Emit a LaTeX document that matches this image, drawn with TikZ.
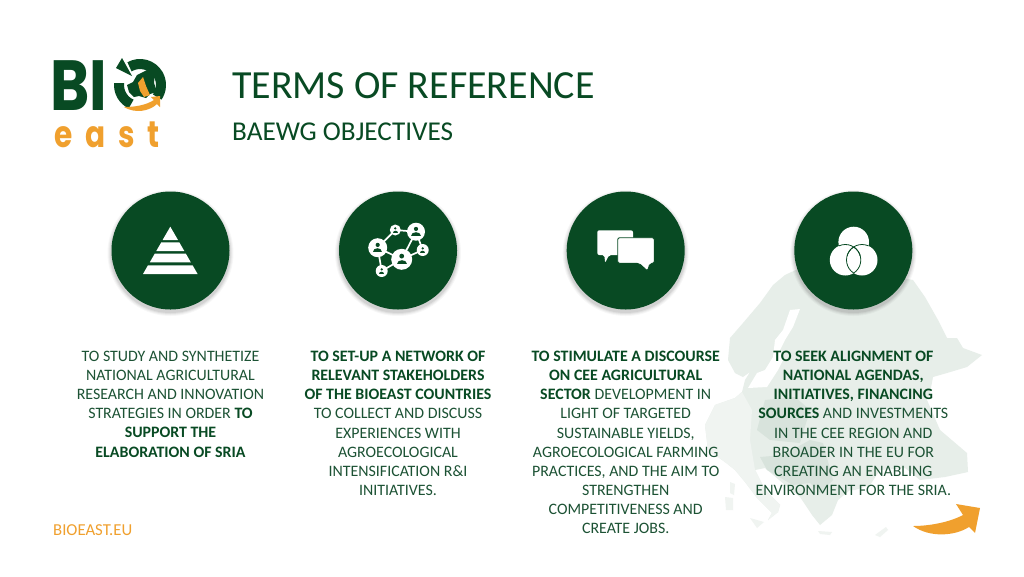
\documentclass[tikz,border=0pt]{standalone}
\usepackage{fontspec}
\setmainfont{Carlito}
\newfontfamily\logofont{Poppins}
\definecolor{dkgreen}{HTML}{084A23}
\definecolor{txtgreen}{HTML}{1C5234}
\definecolor{orng}{HTML}{F0A02E}
\definecolor{maplight}{HTML}{E7EEE9}
\definecolor{mapdark}{HTML}{D8E3DC}
\definecolor{mappale}{HTML}{F0F4F1}
\usetikzlibrary{calc}
\tikzset{
  disc/.style={circle,fill=dkgreen,minimum size=118pt,inner sep=0pt},
  body/.style={anchor=north,align=center,text=txtgreen,font=\fontsize{15.9}{19.1}\selectfont,inner sep=0pt},
  iconfill/.style={fill=white,draw=none},
  netedge/.style={draw=white,line width=1.7pt},
}
\newcommand{\bstr}[1]{\textbf{\textcolor{dkgreen}{#1}}}
\newcommand{\shadowdisc}[1]{%
  \foreach \r/\o in {63/.03,62/.04,61/.05,60/.06}{\fill[black,opacity=\o] ($(#1)+(0,2.5)$) circle (\r);}}
\newcommand{\person}[3]{%
  \fill[dkgreen] ($(#1,#2)+(0,-.4*#3)$) circle (.3*#3);
  \fill[dkgreen] ($(#1,#2)+(-.65*#3,.6*#3)$) .. controls ($(#1,#2)+(-.65*#3,-.1*#3)$) and ($(#1,#2)+(.65*#3,-.1*#3)$) .. ($(#1,#2)+(.65*#3,.6*#3)$) -- cycle;}
\begin{document}
\begin{tikzpicture}[x=1pt,y=-1pt]
\useasboundingbox (0,0) rectangle (1024,576);
\fill[white] (0,0) rectangle (1024,576);
% background map
\fill[maplight] (773,285) -- (760,303) -- (743,323) -- (730,338) -- (728,360) -- (735,373) -- (743,377) -- (750,372) -- (745,380) -- (742,392) -- (735,398) -- (715,405) -- (705,425) -- (708,450) -- (725,462) -- (735,470) -- (745,482) -- (757,498) -- (772,513) -- (768,520) -- (778,512) -- (780,505) -- (765,490) -- (755,470) -- (765,468) -- (785,485) -- (800,497) -- (812,515) -- (820,525) -- (832,515) -- (838,500) -- (850,490) -- (855,490) -- (870,485) -- (880,470) -- (905,468) -- (920,480) -- (945,477) -- (968,472) -- (967,453) -- (940,430) -- (927,400) -- (930,393) -- (933,377) -- (947,373) -- (967,367) -- (982,355) -- (963,348) -- (957,338) -- (947,338) -- (938,320) -- (925,297) -- (913,280) -- (860,270) -- (800,268) -- (785,275) -- cycle;
% paler western part of the map
\fill[mappale] (742,392) -- (735,398) -- (715,405) -- (705,425) -- (708,450) -- (725,462) -- (735,470) -- (745,482) -- (757,498) -- (772,513) -- (768,520) -- (778,512) -- (780,505) -- (765,490) -- (755,470) -- (750,440) -- (752,410) -- cycle;
\fill[white] (790,310) -- (800,309) -- (793,327) -- (785,340) -- (780,350) -- (783,360) -- (778,370) -- (767,387) -- (748,388) -- (757,373) -- (765,370) -- (773,357) -- (775,340) -- (783,330) -- cycle;
\fill[mapdark] (757,430) -- (765,400) -- (795,397) -- (810,410) -- (800,443) -- (770,440) -- cycle;
\fill[mapdark] (760,457) -- (783,455) -- (810,440) -- (823,443) -- (833,480) -- (820,493) -- (810,483) -- (793,485) -- (767,470) -- cycle;
\fill[mappale] (730,482) -- (735,484) -- (734,495) -- (730,493) -- cycle;
\fill[mappale] (725,497) -- (733,498) -- (733,510) -- (726,510) -- cycle;
\fill[mappale] (750,518) -- (764,522) -- (757,528) -- cycle;
\fill[mappale] (818,531) -- (832,532) -- (830,535) -- (820,534) -- cycle;
\fill[mappale] (875,535) -- (886,527) -- (888,530) -- (880,537) -- cycle;
% logo
\node[inner sep=0pt,anchor=base west,text=dkgreen,font=\fontsize{71}{71}\logofont\bfseries,xscale=.84] (logobi) at (50,110) {BI};
\node[inner sep=0pt,anchor=base west,text=orng,font=\fontsize{37}{37}\logofont\bfseries,xscale=.8] (logoeast) at (54,147) {e\hspace{16pt}a\hspace{16pt}s\hspace{16pt}t};
% logo ring
\begin{scope}[shift={(140,85)},y=1pt]
\draw[dkgreen,line width=10pt] (120:21) arc[start angle=120,end angle=-35,radius=21];
\draw[dkgreen,line width=10pt] (175:21) arc[start angle=175,end angle=245,radius=21];
\end{scope}
\fill[dkgreen] (122,58) -- (132,76) -- (116,68) -- cycle;
% logo inner map
\fill[dkgreen] (127,85) -- (133,82) -- (137,75) -- (147,70) -- (155,73) -- (154,83) -- (157,92) -- (150,94) -- (146,98) -- (139,96) -- (134,97) -- (129,92) -- cycle;
\fill[orng] (138,83) -- (143,77) -- (146,86) -- (150,95) -- (144,97) -- (140,91) -- cycle;
% logo orange arrow
\fill[orng] (124,107) .. controls (136,107) and (146,105) .. (154,100) -- (151,97) -- (160,96) -- (160,107) -- (157,104) .. controls (150,111) and (135,114) .. (124,107) -- cycle;
% title
\node[inner sep=0pt,anchor=base west,text=dkgreen,font=\fontsize{39.9}{40}\selectfont] (title) at (232,98.7) {TERMS OF REFERENCE};
\node[inner sep=0pt,anchor=base west,text=dkgreen,font=\fontsize{27.2}{28}\selectfont] (subtitle) at (232,140.5) {BAEWG OBJECTIVES};
% discs
\shadowdisc{170.5,250.5}\shadowdisc{398,250.5}\shadowdisc{625.7,250.5}\shadowdisc{853.3,250.5}
\node[disc] (d1) at (170.5,250.5) {};
\node[disc] (d2) at (398,250.5) {};
\node[disc] (d3) at (625.7,250.5) {};
\node[disc] (d4) at (853.3,250.5) {};
% pyramid icon
\fill[iconfill] (170.3,226.7) -- (178,240) -- (162.6,240) -- cycle;
\fill[iconfill] (161.3,242.3) -- (179.3,242.3) -- (184.3,251) -- (156.3,251) -- cycle;
\fill[iconfill] (154.7,253.7) -- (185.9,253.7) -- (190.8,262.3) -- (149.8,262.3) -- cycle;
\fill[iconfill] (148,265.3) -- (192.6,265.3) -- (197.6,274) -- (143,274) -- cycle;
% network icon
\coordinate (n1) at (401.7,259.3);
\coordinate (n2) at (377.7,247.7);
\coordinate (n3) at (416,231.7);
\coordinate (n4) at (395.3,230);
\coordinate (n5) at (422.7,250);
\coordinate (n6) at (381.7,271);
\draw[netedge] (n2) -- (n4) -- (n3) -- (n5) -- (n1) -- (n6) -- (n2) -- (n1) -- (n3);
\fill[white] (n1) circle (10.5) (n2) circle (9.5) (n3) circle (9) (n4) circle (5.5) (n5) circle (6) (n6) circle (6);
\person{401.7}{259.3}{8}\person{377.7}{247.7}{7}\person{416}{231.7}{7}\person{395.3}{230}{4.2}\person{422.7}{250}{4.2}\person{381.7}{271}{4.2}
% chat icon
\fill[white,rounded corners=2pt] (597.3,230.3) -- (633,230.3) -- (633,255) -- (609,255) -- (605,263) -- (604.5,255) -- (597.3,255) -- cycle;
\fill[white,draw=dkgreen,line width=.9pt,rounded corners=2pt] (617.7,237.7) -- (654.3,237.7) -- (654.3,263.3) -- (650,263.3) -- (647.5,271) -- (639,263.3) -- (617.7,263.3) -- cycle;
% venn icon
\fill[white] (853.7,242) circle (15.3) (845.3,260) circle (15.5) (862,260) circle (15.5);
\begin{scope}
\clip (853.7,242) circle (15.3);
\draw[dkgreen,line width=.8pt] (845.3,260) circle (15.5) (862,260) circle (15.5);
\end{scope}
\begin{scope}
\clip (845.3,260) circle (15.5);
\draw[dkgreen,line width=.8pt] (862,260) circle (15.5);
\end{scope}
\begin{scope}
\clip (862,260) circle (15.5);
\draw[dkgreen,line width=.8pt] (845.3,260) circle (15.5);
\end{scope}
% texts
\node[body] (t1) at (170.5,351) {TO STUDY AND SYNTHETIZE\\NATIONAL AGRICULTURAL\\RESEARCH AND INNOVATION\\STRATEGIES IN ORDER \bstr{TO}\\\bstr{SUPPORT THE}\\\bstr{ELABORATION OF SRIA}};
\node[body] (t2) at (398,351) {\bstr{TO SET-UP A NETWORK OF}\\\bstr{RELEVANT STAKEHOLDERS}\\\bstr{OF THE BIOEAST COUNTRIES}\\TO COLLECT AND DISCUSS\\EXPERIENCES WITH\\AGROECOLOGICAL\\INTENSIFICATION R\&I\\INITIATIVES.};
\node[body] (t3) at (625.7,351) {\bstr{TO STIMULATE A DISCOURSE}\\\bstr{ON CEE AGRICULTURAL}\\\bstr{SECTOR} DEVELOPMENT IN\\LIGHT OF TARGETED\\SUSTAINABLE YIELDS,\\AGROECOLOGICAL FARMING\\PRACTICES, AND THE AIM TO\\STRENGTHEN\\COMPETITIVENESS AND\\CREATE JOBS.};
\node[body] (t4) at (853.3,351) {\bstr{TO SEEK ALIGNMENT OF}\\\bstr{NATIONAL AGENDAS,}\\\bstr{INITIATIVES, FINANCING}\\\bstr{SOURCES} AND INVESTMENTS\\IN THE CEE REGION AND\\BROADER IN THE EU FOR\\CREATING AN ENABLING\\ENVIRONMENT FOR THE SRIA.};
\node[inner sep=0pt,anchor=base west,text=orng,font=\fontsize{16.7}{17}\selectfont] (site) at (53,535) {BIOEAST.EU};
% arrow bottom right
\fill[orng] (913,526) .. controls (930,526) and (950,522) .. (963,515) -- (956,504) -- (980,508) -- (975,533) -- (969,527) .. controls (955,536) and (930,538) .. (913,526) -- cycle;
\end{tikzpicture}
\end{document}
